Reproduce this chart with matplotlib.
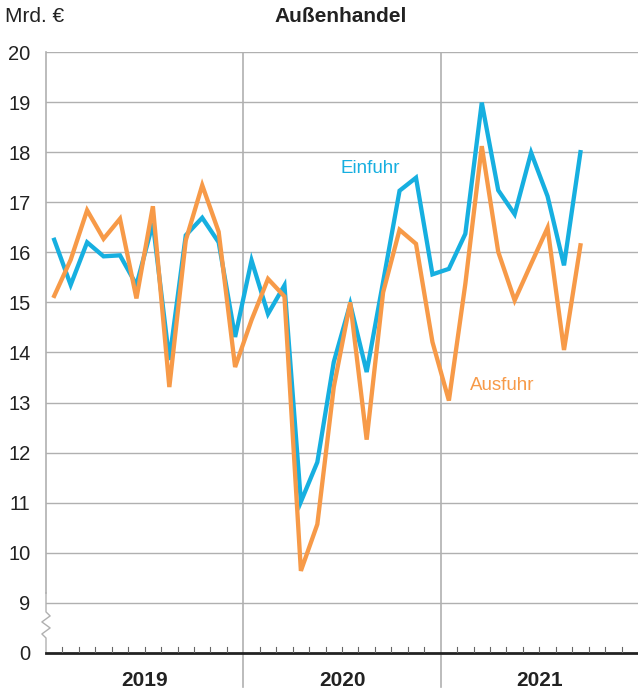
import numpy as np
import matplotlib.pyplot as plt
from matplotlib.lines import Line2D

plt.rcParams['font.family'] = ['Liberation Sans', 'DejaVu Sans']

# monthly values Jan 2019 - Sep 2021, Mrd. Euro
einfuhr = [16.25, 15.35, 16.2, 15.92, 15.94, 15.35, 16.58, 13.85, 16.34, 16.69, 16.2, 14.31,
           15.84, 14.77, 15.34, 11.02, 11.81, 13.81, 14.97, 13.61, 15.41, 17.23, 17.49, 15.56,
           15.67, 16.37, 18.99, 17.24, 16.76, 17.99, 17.12, 15.74, 18.0]
ausfuhr = [15.13, 15.85, 16.84, 16.27, 16.67, 15.08, 16.92, 13.31, 16.24, 17.34, 16.41, 13.71,
           14.65, 15.47, 15.12, 9.64, 10.57, 13.31, 15.0, 12.26, 15.2, 16.45, 16.17, 14.21,
           13.04, 15.37, 18.12, 16.01, 15.04, 15.77, 16.49, 14.05, 16.14]
years = ['2019', '2020', '2021']
yticks = list(range(9, 21))

blue = '#16afe0'
orange = '#f79a48'
grid = '#b0b0b0'
dark = '#222222'

fig = plt.figure(figsize=(6.38, 6.95), dpi=100)
ax = fig.add_axes([46/638, 42/695, 592/638, 601/695])
ax.set_xlim(0, 36)
ax.set_ylim(8, 20)

x = np.arange(len(einfuhr)) + 0.5
ax.plot(x, einfuhr, color=blue, lw=3.1, solid_joinstyle='miter', zorder=3)
ax.plot(x, ausfuhr, color=orange, lw=3.1, solid_joinstyle='miter', zorder=4)

# grid
for v in yticks:
    ax.axhline(v, color=grid, lw=1, zorder=1)
for k in (12, 24):
    ax.plot([k, k], [8, 20], color=grid, lw=1.2, zorder=1)
    ax.add_line(Line2D([k, k], [8, 7.32], color=grid, lw=1.2, clip_on=False))

for s in ax.spines.values():
    s.set_visible(False)
ax.set_xticks([])
ax.set_yticks(yticks + [8])
ax.set_yticklabels([str(v) for v in yticks] + ['0'], fontsize=14.5, color=dark)
ax.tick_params(axis='y', length=0, pad=11)

# left axis with break
ax.plot([0, 0], [9.2, 20], color=grid, lw=1.2, clip_on=False, zorder=2)
zx = [0, 0, 0.25, -0.25, 0.25, -0.25, 0, 0]
zy = [9.2, 8.82, 8.74, 8.62, 8.5, 8.38, 8.3, 8.0]
ax.plot(zx, zy, color=grid, lw=1, clip_on=False, zorder=2)

# baseline with month ticks
ax.plot([0, 36], [8, 8], color=dark, lw=2, clip_on=False, zorder=5)
for m in range(1, 36):
    if m % 12:
        ax.plot([m, m], [8, 8.12], color='#666666', lw=0.8, zorder=5)

for i, yr in enumerate(years):
    ax.text(12*i + 6, 7.46, yr, ha='center', va='center', fontsize=15, fontweight='bold', color=dark)

ax.text(17.9, 17.68, 'Einfuhr', color=blue, fontsize=13.5, ha='left', va='center')
ax.text(25.8, 13.34, 'Ausfuhr', color=orange, fontsize=13.5, ha='left', va='center')

fig.text(5/638, 1 - 17/695, 'Mrd. €', fontsize=15, ha='left', va='center', color=dark)
fig.text(341/638, 1 - 17/695, 'Außenhandel', fontsize=15, fontweight='bold', ha='center', va='center', color=dark)

fig.savefig('out.png', dpi=100)
